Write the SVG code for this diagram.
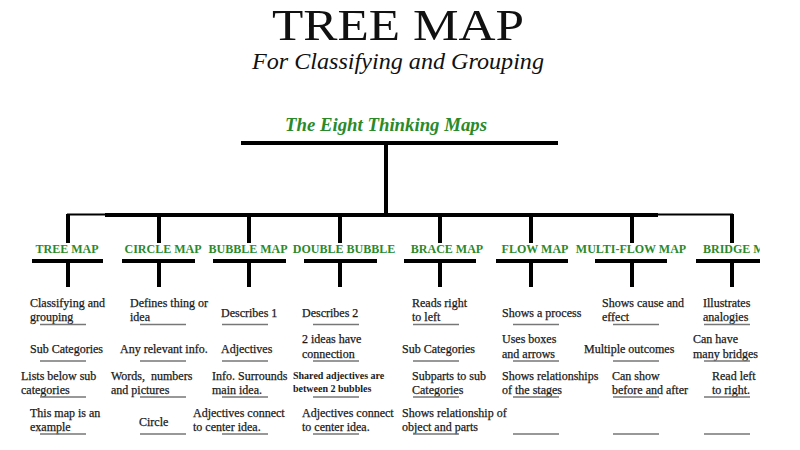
<svg xmlns="http://www.w3.org/2000/svg" width="800" height="450" viewBox="0 0 800 450">
<defs>
<style>
.title{font-family:"Liberation Serif","Times New Roman",serif;font-size:45px;fill:#111}
.sub{font-family:"Liberation Serif","Times New Roman",serif;font-size:24px;font-style:italic;fill:#111}
.head{font-family:"Liberation Serif","Times New Roman",serif;font-size:19px;font-style:italic;font-weight:bold;fill:#2a8a2a}
.lab{font-family:"Liberation Serif","Times New Roman",serif;font-size:12px;font-weight:bold;fill:#2a8a2a;text-anchor:middle}
.t{font-family:"Liberation Serif","Times New Roman",serif;font-size:12px;fill:#1a1a1a;stroke:#1a1a1a;stroke-width:0.25}
.s{font-family:"Liberation Serif","Times New Roman",serif;font-size:10px;font-weight:bold;fill:#1a1a1a}
.bar{stroke:#000;stroke-width:4;fill:none}
.thin{stroke:#000;stroke-width:2;fill:none}
.ul{stroke:#777;stroke-width:1.5;fill:none}
</style>
<clipPath id="clip"><rect x="0" y="0" width="760" height="450"/></clipPath>
</defs>
<rect width="800" height="450" fill="#fff"/>
<g id="title">
<text class="title" x="398" y="40" text-anchor="middle" textLength="252" lengthAdjust="spacingAndGlyphs">TREE MAP</text>
<text class="sub" x="398" y="69" text-anchor="middle" textLength="292" lengthAdjust="spacingAndGlyphs">For Classifying and Grouping</text>
</g>
<g id="root">
<text class="head" x="386" y="131" text-anchor="middle" textLength="202" lengthAdjust="spacingAndGlyphs">The Eight Thinking Maps</text>
</g>
<g id="connectors" clip-path="url(#clip)">
<line class="bar" x1="241" y1="143" x2="558" y2="143"/>
<line class="bar" x1="386" y1="143" x2="386" y2="215"/>
<line class="thin" x1="67" y1="214.5" x2="733" y2="214.5"/>
<line class="bar" x1="105" y1="215" x2="658" y2="215"/>
<line class="bar" x1="68" y1="214" x2="68" y2="243"/>
<line class="bar" x1="159" y1="215" x2="159" y2="243"/>
<line class="bar" x1="249" y1="215" x2="249" y2="243"/>
<line class="bar" x1="340" y1="215" x2="340" y2="243"/>
<line class="bar" x1="440" y1="215" x2="440" y2="243"/>
<line class="bar" x1="531" y1="215" x2="531" y2="243"/>
<line class="bar" x1="632" y1="215" x2="632" y2="243"/>
<line class="bar" x1="732" y1="214" x2="732" y2="243"/>
<line class="bar" x1="32" y1="261" x2="103" y2="261"/>
<line class="bar" x1="122" y1="261" x2="195" y2="261"/>
<line class="bar" x1="213" y1="261" x2="286" y2="261"/>
<line class="bar" x1="304" y1="261" x2="377" y2="261"/>
<line class="bar" x1="404" y1="261" x2="476" y2="261"/>
<line class="bar" x1="496" y1="261" x2="568" y2="261"/>
<line class="bar" x1="595" y1="261" x2="667" y2="261"/>
<line class="bar" x1="696" y1="261" x2="760" y2="261"/>
<line class="bar" x1="68" y1="261" x2="68" y2="287"/>
<line class="bar" x1="159" y1="261" x2="159" y2="287"/>
<line class="bar" x1="249" y1="261" x2="249" y2="287"/>
<line class="bar" x1="340" y1="261" x2="340" y2="287"/>
<line class="bar" x1="440" y1="261" x2="440" y2="287"/>
<line class="bar" x1="531" y1="261" x2="531" y2="287"/>
<line class="bar" x1="632" y1="261" x2="632" y2="287"/>
<line class="bar" x1="732" y1="261" x2="732" y2="287"/>
</g>
<g id="tree-map">
<text class="lab" x="67" y="253">TREE MAP</text>
<text class="t" x="30" y="307">Classifying and</text><text class="t" x="30" y="321">grouping</text>
<text class="t" x="30" y="353">Sub Categories</text>
<text class="t" x="21" y="380">Lists below sub</text><text class="t" x="21" y="394">categories</text>
<text class="t" x="30" y="417">This map is an</text><text class="t" x="30" y="431">example</text>
<path class="ul" d="M40 324.5H86M40 361H86M40 397H86M40 434H86"/>
</g>
<g id="circle-map">
<text class="lab" x="163" y="253">CIRCLE MAP</text>
<text class="t" x="130" y="307">Defines thing or</text><text class="t" x="130" y="321">idea</text>
<text class="t" x="120" y="353">Any relevant info.</text>
<text class="t" x="111" y="380" xml:space="preserve">Words,  numbers</text><text class="t" x="111" y="394">and pictures</text>
<text class="t" x="139" y="426">Circle</text>
<path class="ul" d="M140 324.5H186M140 361H186M140 397H186M140 434H186"/>
</g>
<g id="bubble-map">
<text class="lab" x="248" y="253">BUBBLE MAP</text>
<text class="t" x="221" y="317">Describes 1</text>
<text class="t" x="221" y="353">Adjectives</text>
<text class="t" x="212" y="380">Info. Surrounds</text><text class="t" x="212" y="394">main idea.</text>
<text class="t" x="193" y="417">Adjectives connect</text><text class="t" x="193" y="431">to center idea.</text>
<path class="ul" d="M222 324.5H268M222 361H268M222 397H268M222 434H268"/>
</g>
<g id="double-bubble">
<text class="lab" x="344" y="253">DOUBLE BUBBLE</text>
<text class="t" x="302" y="317">Describes 2</text>
<text class="t" x="302" y="343">2 ideas have</text><text class="t" x="302" y="358">connection</text>
<text class="s" x="293" y="379">Shared adjectives are</text><text class="s" x="293" y="392">between 2 bubbles</text>
<text class="t" x="302" y="417">Adjectives connect</text><text class="t" x="302" y="431">to center idea.</text>
<path class="ul" d="M313 324.5H359M313 361H359M313 397H359M313 434H359"/>
</g>
<g id="brace-map">
<text class="lab" x="447" y="253">BRACE MAP</text>
<text class="t" x="412" y="307">Reads right</text><text class="t" x="412" y="321">to left</text>
<text class="t" x="402" y="353">Sub Categories</text>
<text class="t" x="412" y="380">Subparts to sub</text><text class="t" x="412" y="394">Categories</text>
<text class="t" x="402" y="417">Shows relationship of</text><text class="t" x="402" y="431">object and parts</text>
<path class="ul" d="M413 324.5H459M413 361H459M413 397H459M413 434H459"/>
</g>
<g id="flow-map">
<text class="lab" x="535" y="253">FLOW MAP</text>
<text class="t" x="502" y="317">Shows a process</text>
<text class="t" x="502" y="343">Uses boxes</text><text class="t" x="502" y="358">and arrows</text>
<text class="t" x="502" y="380">Shows relationships</text><text class="t" x="502" y="394">of the stages</text>
<path class="ul" d="M513 324.5H559M513 361H559M513 397H559M513 434H559"/>
</g>
<g id="multi-flow-map">
<text class="lab" x="631" y="253">MULTI-FLOW MAP</text>
<text class="t" x="602" y="307">Shows cause and</text><text class="t" x="602" y="321">effect</text>
<text class="t" x="584" y="353">Multiple outcomes</text>
<text class="t" x="612" y="380">Can show</text><text class="t" x="612" y="394">before and after</text>
<path class="ul" d="M613 324.5H659M613 361H659M613 397H659M613 434H659"/>
</g>
<g id="bridge-map" clip-path="url(#clip)">
<text class="lab" x="703" y="253" style="text-anchor:start">BRIDGE MAP</text>
<text class="t" x="703" y="307">Illustrates</text><text class="t" x="703" y="321">analogies</text>
<text class="t" x="693" y="343">Can have</text><text class="t" x="693" y="358">many bridges</text>
<text class="t" x="712" y="380">Read left</text><text class="t" x="712" y="394">to right.</text>
<path class="ul" d="M704 324.5H750M704 361H750M704 397H750M704 434H750"/>
</g>
</svg>
